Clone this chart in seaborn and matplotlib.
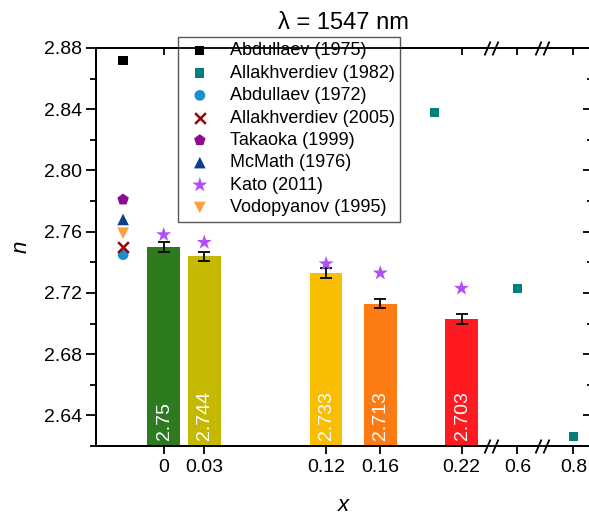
import numpy as np
import pandas as pd
import seaborn as sns
import matplotlib.pyplot as plt
from matplotlib.path import Path
from matplotlib.ticker import MultipleLocator

# bar data (this work)
bar_x = [0, 0.03, 0.12, 0.16, 0.22]
bar_n = [2.750, 2.744, 2.733, 2.713, 2.703]
bar_err = [0.003, 0.003, 0.003, 0.003, 0.003]
bar_labels = ["2.75", "2.744", "2.733", "2.713", "2.703"]
bar_colors = ["#2e7b1f", "#c4b900", "#f9bd02", "#fd7b13", "#ff1a1f"]

# literature values
abd75_x, abd75_n = [-0.03], [2.872]
all82_x, all82_n = [0.2, 0.6, 0.8], [2.838, 2.723, 2.626]
abd72_x, abd72_n = [-0.03], [2.745]
all05_x, all05_n = [-0.03], [2.750]
tak_x, tak_n = [-0.03], [2.781]
mcm_x, mcm_n = [-0.03], [2.768]
kato_x, kato_n = [0, 0.03, 0.12, 0.16, 0.22], [2.758, 2.753, 2.739, 2.733, 2.723]
vod_x, vod_n = [-0.03], [2.759]

x_ticks = [0, 0.03, 0.12, 0.16, 0.22, 0.6, 0.8]
x_ticklabels = ["0", "0.03", "0.12", "0.16", "0.22", "0.6", "0.8"]
x_breaks = [0.4, 0.7]

# broken x axis as a piecewise-linear scale
xa = np.array([-1, 0.24, 0.4, 0.6, 0.7, 0.8, 2.0])
ua = np.array([-1, 0.24, 0.2416, 0.2613, 0.2793, 0.3026, 0.3026 + 1.2 * 0.233])


def fwd(x):
    return np.interp(x, xa, ua)


def inv(u):
    return np.interp(u, ua, xa)


sns.set_theme(style="ticks")
plt.rcParams["font.family"] = ["Liberation Sans", "DejaVu Sans"]
plt.rcParams.update({
    "axes.linewidth": 1.3,
    "axes.edgecolor": "black",
    "text.color": "black",
    "axes.labelcolor": "black",
    "xtick.color": "black",
    "ytick.color": "black",
})

fig = plt.figure(figsize=(5.89, 5.16), dpi=100)
ax = fig.add_axes([96 / 589, 1 - 446 / 516, 495 / 589, 398 / 516])
ax.set_xscale("function", functions=(fwd, inv))
xlim = (-0.05, 0.856)
ylim = (2.62, 2.88)
ax.set_xlim(*xlim)

df_bar = pd.DataFrame({"x": bar_x, "n": bar_n, "lab": bar_labels})
sns.barplot(data=df_bar, x="x", y="n", hue="lab", hue_order=bar_labels,
            palette=bar_colors, native_scale=True, dodge=False,
            legend=False, ax=ax, width=0.8, saturation=1,
            edgecolor="none", zorder=2)
ax.errorbar(bar_x, bar_n, yerr=bar_err, fmt="none", ecolor="black",
            elinewidth=1.3, capsize=4, capthick=1.3, zorder=3)

for x, lab in zip(bar_x, bar_labels):
    ax.annotate(lab, (x, ylim[0]), xytext=(0.5, 4), textcoords="offset points",
                rotation=90, ha="center", va="bottom", color="white",
                fontsize=14)

series = [
    ("Abdullaev (1975)", abd75_x, abd75_n, "black", "s", 45),
    ("Allakhverdiev (1982)", all82_x, all82_n, "#00807a", "s", 45),
    ("Abdullaev (1972)", abd72_x, abd72_n, "#1a8fd0", "o", 60),
    ("Allakhverdiev (2005)", all05_x, all05_n, "#a00000", "x", 60),
    ("Takaoka (1999)", tak_x, tak_n, "#8e0a8e", "p", 75),
    ("McMath (1976)", mcm_x, mcm_n, "#0d3f8f", "^", 70),
    ("Kato (2011)", kato_x, kato_n, "#b04ef8", "*", 130),
    ("Vodopyanov (1995)", vod_x, vod_n, "#ff9e3d", "v", 70),
]
for name, xs, ns, c, m, s in series:
    kw = dict(linewidth=1.8) if m == "x" else dict(edgecolor="none")
    sns.scatterplot(x=xs, y=ns, color=c, marker=m, s=s, label=name,
                    ax=ax, zorder=4, **kw)
handles, labels = ax.get_legend_handles_labels()
ax.get_legend().remove()

ax.set_xlim(*xlim)
ax.set_ylim(*ylim)
ax.set_xticks(x_ticks)
ax.set_xticklabels(x_ticklabels)
ax.xaxis.set_minor_locator(plt.NullLocator())
ax.yaxis.set_major_locator(MultipleLocator(0.04))
ax.yaxis.set_minor_locator(MultipleLocator(0.02))
ax.yaxis.set_major_formatter(plt.FormatStrFormatter("%.2f"))
ax.set_ylim(*ylim)
ax.tick_params(axis="both", which="major", length=7, width=1.3,
               labelsize=14, direction="out", pad=3)
ax.tick_params(axis="x", which="major", length=6)
ax.tick_params(axis="y", which="minor", length=4, width=1.3,
               direction="out")
ax.set_xlabel("x", fontsize=16, style="italic", labelpad=14)
ax.set_ylabel("n", fontsize=16, style="italic", labelpad=9)

# mirrored inward ticks on top and right
axt = ax.twiny()
axt.set_xscale("function", functions=(fwd, inv))
axt.set_xlim(*xlim)
axt.set_xticks(x_ticks)
axt.set_xticklabels([])
axt.xaxis.set_minor_locator(plt.NullLocator())
axt.tick_params(axis="x", direction="in", length=5, width=1.3)

axr = ax.twinx()
axr.set_ylim(*ylim)
axr.yaxis.set_major_locator(MultipleLocator(0.04))
axr.yaxis.set_minor_locator(MultipleLocator(0.02))
axr.set_yticklabels([])
axr.tick_params(axis="y", which="major", direction="in", length=6, width=1.3)
axr.tick_params(axis="y", which="minor", direction="in", length=3, width=1.3)
axr.set_ylim(*ylim)

# axis break marks "//"
slash = Path([(-7, -7), (-1, 7), (1, -7), (7, 7)],
             [Path.MOVETO, Path.LINETO, Path.MOVETO, Path.LINETO])
for xb in x_breaks:
    axt.plot([xb, xb], [0, 1], transform=axt.get_xaxis_transform(),
             ls="none", marker="_", color="white", ms=5, mew=4,
             clip_on=False, zorder=10)
    axt.plot([xb, xb], [0, 1], transform=axt.get_xaxis_transform(),
             ls="none", marker=slash, color="black", ms=10, mew=1.3,
             clip_on=False, zorder=11)

axt.set_title("\u03bb = 1547 nm", fontsize=17, pad=14)

leg = axt.legend(handles, labels, loc="upper left",
                 bbox_to_anchor=(0.166, 1.028), borderaxespad=0,
                 fontsize=13, frameon=True, fancybox=False,
                 edgecolor="#555555", framealpha=1, labelspacing=0.3,
                 handletextpad=0.75, borderpad=0.3, handlelength=1.8)
leg.get_frame().set_linewidth(1.0)
leg.set_zorder(20)

fig.savefig("out.png", dpi=100)
